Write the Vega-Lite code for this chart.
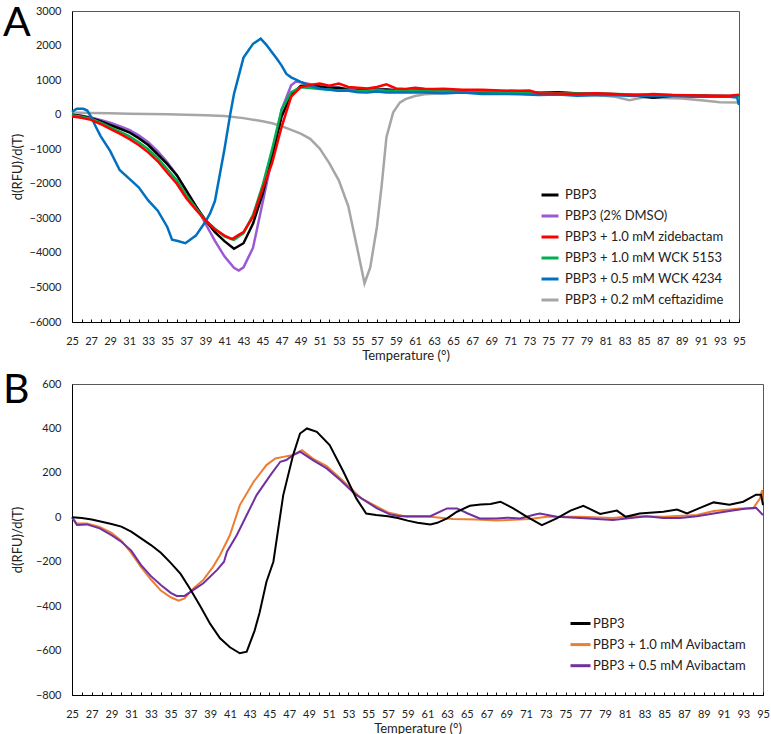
{
"$schema": "https://vega.github.io/schema/vega-lite/v6.json",
"padding": {"left": 2, "top": 2, "right": 0, "bottom": 0},
"config": {
  "font": "Lato",
  "view": {"stroke": "#595959", "strokeWidth": 1},
  "axis": {"grid": false, "labelFont": "Lato", "labelFontSize": 11, "labelColor": "#222", "titleFont": "Lato", "titleFontSize": 13, "titleFontWeight": "normal", "titleColor": "#222", "domainColor": "#000", "tickColor": "#000"},
  "legend": {"labelFont": "Lato", "labelFontSize": 13, "labelColor": "#222", "symbolType": "stroke", "padding": 0, "title": null},
  "title": {"font": "Lato", "fontSize": 41, "fontWeight": "normal", "anchor": "start", "frame": "group", "baseline": "top", "color": "#000"}
},
"datasets": {
"a": [
{"s":"PBP3 + 0.2 mM ceftazidime","t":25,"v":60},{"s":"PBP3 + 0.2 mM ceftazidime","t":27,"v":50},{"s":"PBP3 + 0.2 mM ceftazidime","t":29,"v":40},{"s":"PBP3 + 0.2 mM ceftazidime","t":31,"v":30},{"s":"PBP3 + 0.2 mM ceftazidime","t":33,"v":20},{"s":"PBP3 + 0.2 mM ceftazidime","t":35,"v":10},{"s":"PBP3 + 0.2 mM ceftazidime","t":37,"v":0},{"s":"PBP3 + 0.2 mM ceftazidime","t":39,"v":-20},{"s":"PBP3 + 0.2 mM ceftazidime","t":41,"v":-40},{"s":"PBP3 + 0.2 mM ceftazidime","t":43,"v":-100},{"s":"PBP3 + 0.2 mM ceftazidime","t":45,"v":-190},{"s":"PBP3 + 0.2 mM ceftazidime","t":46,"v":-250},{"s":"PBP3 + 0.2 mM ceftazidime","t":47,"v":-330},{"s":"PBP3 + 0.2 mM ceftazidime","t":48,"v":-440},{"s":"PBP3 + 0.2 mM ceftazidime","t":49,"v":-550},{"s":"PBP3 + 0.2 mM ceftazidime","t":50,"v":-700},{"s":"PBP3 + 0.2 mM ceftazidime","t":51,"v":-980},{"s":"PBP3 + 0.2 mM ceftazidime","t":52,"v":-1400},{"s":"PBP3 + 0.2 mM ceftazidime","t":53,"v":-1900},{"s":"PBP3 + 0.2 mM ceftazidime","t":54,"v":-2650},{"s":"PBP3 + 0.2 mM ceftazidime","t":55,"v":-3950},{"s":"PBP3 + 0.2 mM ceftazidime","t":55.7,"v":-4880},{"s":"PBP3 + 0.2 mM ceftazidime","t":56.3,"v":-4420},{"s":"PBP3 + 0.2 mM ceftazidime","t":57,"v":-3250},{"s":"PBP3 + 0.2 mM ceftazidime","t":57.5,"v":-2050},{"s":"PBP3 + 0.2 mM ceftazidime","t":58,"v":-650},{"s":"PBP3 + 0.2 mM ceftazidime","t":58.7,"v":60},{"s":"PBP3 + 0.2 mM ceftazidime","t":59.4,"v":350},{"s":"PBP3 + 0.2 mM ceftazidime","t":60,"v":450},{"s":"PBP3 + 0.2 mM ceftazidime","t":61,"v":540},{"s":"PBP3 + 0.2 mM ceftazidime","t":62,"v":590},{"s":"PBP3 + 0.2 mM ceftazidime","t":64,"v":620},{"s":"PBP3 + 0.2 mM ceftazidime","t":66,"v":640},{"s":"PBP3 + 0.2 mM ceftazidime","t":68,"v":640},{"s":"PBP3 + 0.2 mM ceftazidime","t":70,"v":630},{"s":"PBP3 + 0.2 mM ceftazidime","t":72,"v":620},{"s":"PBP3 + 0.2 mM ceftazidime","t":74,"v":620},{"s":"PBP3 + 0.2 mM ceftazidime","t":76,"v":620},{"s":"PBP3 + 0.2 mM ceftazidime","t":78,"v":600},{"s":"PBP3 + 0.2 mM ceftazidime","t":80,"v":570},{"s":"PBP3 + 0.2 mM ceftazidime","t":82,"v":520},{"s":"PBP3 + 0.2 mM ceftazidime","t":83.5,"v":420},{"s":"PBP3 + 0.2 mM ceftazidime","t":85,"v":500},{"s":"PBP3 + 0.2 mM ceftazidime","t":87,"v":480},{"s":"PBP3 + 0.2 mM ceftazidime","t":89,"v":470},{"s":"PBP3 + 0.2 mM ceftazidime","t":91,"v":420},{"s":"PBP3 + 0.2 mM ceftazidime","t":93,"v":360},{"s":"PBP3 + 0.2 mM ceftazidime","t":95,"v":350},
{"s":"PBP3 (2% DMSO)","t":25,"v":0},{"s":"PBP3 (2% DMSO)","t":26,"v":-30},{"s":"PBP3 (2% DMSO)","t":27,"v":-80},{"s":"PBP3 (2% DMSO)","t":28,"v":-150},{"s":"PBP3 (2% DMSO)","t":29,"v":-230},{"s":"PBP3 (2% DMSO)","t":30,"v":-330},{"s":"PBP3 (2% DMSO)","t":31,"v":-440},{"s":"PBP3 (2% DMSO)","t":32,"v":-600},{"s":"PBP3 (2% DMSO)","t":33,"v":-800},{"s":"PBP3 (2% DMSO)","t":34,"v":-1060},{"s":"PBP3 (2% DMSO)","t":35,"v":-1380},{"s":"PBP3 (2% DMSO)","t":36,"v":-1750},{"s":"PBP3 (2% DMSO)","t":37,"v":-2200},{"s":"PBP3 (2% DMSO)","t":38,"v":-2650},{"s":"PBP3 (2% DMSO)","t":39,"v":-3150},{"s":"PBP3 (2% DMSO)","t":40,"v":-3650},{"s":"PBP3 (2% DMSO)","t":41,"v":-4100},{"s":"PBP3 (2% DMSO)","t":42,"v":-4430},{"s":"PBP3 (2% DMSO)","t":42.5,"v":-4510},{"s":"PBP3 (2% DMSO)","t":43,"v":-4420},{"s":"PBP3 (2% DMSO)","t":44,"v":-3850},{"s":"PBP3 (2% DMSO)","t":45,"v":-2550},{"s":"PBP3 (2% DMSO)","t":46,"v":-1250},{"s":"PBP3 (2% DMSO)","t":47,"v":150},{"s":"PBP3 (2% DMSO)","t":48,"v":850},{"s":"PBP3 (2% DMSO)","t":48.5,"v":960},{"s":"PBP3 (2% DMSO)","t":49,"v":940},{"s":"PBP3 (2% DMSO)","t":50,"v":880},{"s":"PBP3 (2% DMSO)","t":51,"v":830},{"s":"PBP3 (2% DMSO)","t":52,"v":800},{"s":"PBP3 (2% DMSO)","t":53,"v":780},{"s":"PBP3 (2% DMSO)","t":54,"v":740},{"s":"PBP3 (2% DMSO)","t":55,"v":730},{"s":"PBP3 (2% DMSO)","t":56,"v":720},{"s":"PBP3 (2% DMSO)","t":57,"v":740},{"s":"PBP3 (2% DMSO)","t":58,"v":730},{"s":"PBP3 (2% DMSO)","t":60,"v":700},{"s":"PBP3 (2% DMSO)","t":62,"v":710},{"s":"PBP3 (2% DMSO)","t":64,"v":700},{"s":"PBP3 (2% DMSO)","t":66,"v":710},{"s":"PBP3 (2% DMSO)","t":68,"v":680},{"s":"PBP3 (2% DMSO)","t":70,"v":670},{"s":"PBP3 (2% DMSO)","t":72,"v":660},{"s":"PBP3 (2% DMSO)","t":74,"v":640},{"s":"PBP3 (2% DMSO)","t":76,"v":640},{"s":"PBP3 (2% DMSO)","t":78,"v":620},{"s":"PBP3 (2% DMSO)","t":80,"v":610},{"s":"PBP3 (2% DMSO)","t":82,"v":590},{"s":"PBP3 (2% DMSO)","t":84,"v":580},{"s":"PBP3 (2% DMSO)","t":86,"v":560},{"s":"PBP3 (2% DMSO)","t":88,"v":560},{"s":"PBP3 (2% DMSO)","t":90,"v":560},{"s":"PBP3 (2% DMSO)","t":92,"v":550},{"s":"PBP3 (2% DMSO)","t":94,"v":540},{"s":"PBP3 (2% DMSO)","t":95,"v":540},
{"s":"PBP3","t":25,"v":0},{"s":"PBP3","t":26,"v":-40},{"s":"PBP3","t":27,"v":-100},{"s":"PBP3","t":28,"v":-190},{"s":"PBP3","t":29,"v":-300},{"s":"PBP3","t":30,"v":-400},{"s":"PBP3","t":31,"v":-510},{"s":"PBP3","t":32,"v":-680},{"s":"PBP3","t":33,"v":-880},{"s":"PBP3","t":34,"v":-1150},{"s":"PBP3","t":35,"v":-1430},{"s":"PBP3","t":36,"v":-1750},{"s":"PBP3","t":37,"v":-2200},{"s":"PBP3","t":38,"v":-2650},{"s":"PBP3","t":39,"v":-3050},{"s":"PBP3","t":40,"v":-3400},{"s":"PBP3","t":41,"v":-3660},{"s":"PBP3","t":42,"v":-3880},{"s":"PBP3","t":43,"v":-3720},{"s":"PBP3","t":44,"v":-3150},{"s":"PBP3","t":45,"v":-2300},{"s":"PBP3","t":46,"v":-1200},{"s":"PBP3","t":47,"v":-50},{"s":"PBP3","t":48,"v":580},{"s":"PBP3","t":49,"v":830},{"s":"PBP3","t":50,"v":860},{"s":"PBP3","t":51,"v":810},{"s":"PBP3","t":52,"v":770},{"s":"PBP3","t":53,"v":780},{"s":"PBP3","t":54,"v":720},{"s":"PBP3","t":55,"v":710},{"s":"PBP3","t":56,"v":740},{"s":"PBP3","t":57,"v":720},{"s":"PBP3","t":58,"v":730},{"s":"PBP3","t":59,"v":700},{"s":"PBP3","t":60,"v":680},{"s":"PBP3","t":62,"v":710},{"s":"PBP3","t":64,"v":690},{"s":"PBP3","t":66,"v":700},{"s":"PBP3","t":68,"v":660},{"s":"PBP3","t":70,"v":670},{"s":"PBP3","t":72,"v":650},{"s":"PBP3","t":74,"v":630},{"s":"PBP3","t":76,"v":650},{"s":"PBP3","t":78,"v":610},{"s":"PBP3","t":80,"v":600},{"s":"PBP3","t":82,"v":580},{"s":"PBP3","t":84,"v":560},{"s":"PBP3","t":86,"v":490},{"s":"PBP3","t":88,"v":550},{"s":"PBP3","t":90,"v":560},{"s":"PBP3","t":92,"v":540},{"s":"PBP3","t":94,"v":530},{"s":"PBP3","t":95,"v":540},
{"s":"PBP3 + 1.0 mM WCK 5153","t":25,"v":-20},{"s":"PBP3 + 1.0 mM WCK 5153","t":26,"v":-60},{"s":"PBP3 + 1.0 mM WCK 5153","t":27,"v":-120},{"s":"PBP3 + 1.0 mM WCK 5153","t":28,"v":-230},{"s":"PBP3 + 1.0 mM WCK 5153","t":29,"v":-360},{"s":"PBP3 + 1.0 mM WCK 5153","t":30,"v":-490},{"s":"PBP3 + 1.0 mM WCK 5153","t":31,"v":-620},{"s":"PBP3 + 1.0 mM WCK 5153","t":32,"v":-800},{"s":"PBP3 + 1.0 mM WCK 5153","t":33,"v":-1000},{"s":"PBP3 + 1.0 mM WCK 5153","t":34,"v":-1260},{"s":"PBP3 + 1.0 mM WCK 5153","t":35,"v":-1580},{"s":"PBP3 + 1.0 mM WCK 5153","t":36,"v":-1900},{"s":"PBP3 + 1.0 mM WCK 5153","t":37,"v":-2330},{"s":"PBP3 + 1.0 mM WCK 5153","t":38,"v":-2700},{"s":"PBP3 + 1.0 mM WCK 5153","t":39,"v":-3050},{"s":"PBP3 + 1.0 mM WCK 5153","t":40,"v":-3300},{"s":"PBP3 + 1.0 mM WCK 5153","t":41,"v":-3520},{"s":"PBP3 + 1.0 mM WCK 5153","t":42,"v":-3620},{"s":"PBP3 + 1.0 mM WCK 5153","t":43,"v":-3430},{"s":"PBP3 + 1.0 mM WCK 5153","t":44,"v":-2900},{"s":"PBP3 + 1.0 mM WCK 5153","t":45,"v":-2050},{"s":"PBP3 + 1.0 mM WCK 5153","t":46,"v":-1000},{"s":"PBP3 + 1.0 mM WCK 5153","t":47,"v":150},{"s":"PBP3 + 1.0 mM WCK 5153","t":48,"v":650},{"s":"PBP3 + 1.0 mM WCK 5153","t":49,"v":790},{"s":"PBP3 + 1.0 mM WCK 5153","t":50,"v":770},{"s":"PBP3 + 1.0 mM WCK 5153","t":51,"v":740},{"s":"PBP3 + 1.0 mM WCK 5153","t":52,"v":730},{"s":"PBP3 + 1.0 mM WCK 5153","t":53,"v":700},{"s":"PBP3 + 1.0 mM WCK 5153","t":54,"v":720},{"s":"PBP3 + 1.0 mM WCK 5153","t":55,"v":690},{"s":"PBP3 + 1.0 mM WCK 5153","t":56,"v":700},{"s":"PBP3 + 1.0 mM WCK 5153","t":57,"v":720},{"s":"PBP3 + 1.0 mM WCK 5153","t":58,"v":690},{"s":"PBP3 + 1.0 mM WCK 5153","t":60,"v":700},{"s":"PBP3 + 1.0 mM WCK 5153","t":62,"v":690},{"s":"PBP3 + 1.0 mM WCK 5153","t":64,"v":680},{"s":"PBP3 + 1.0 mM WCK 5153","t":66,"v":690},{"s":"PBP3 + 1.0 mM WCK 5153","t":68,"v":670},{"s":"PBP3 + 1.0 mM WCK 5153","t":70,"v":660},{"s":"PBP3 + 1.0 mM WCK 5153","t":72,"v":650},{"s":"PBP3 + 1.0 mM WCK 5153","t":74,"v":630},{"s":"PBP3 + 1.0 mM WCK 5153","t":76,"v":620},{"s":"PBP3 + 1.0 mM WCK 5153","t":78,"v":610},{"s":"PBP3 + 1.0 mM WCK 5153","t":80,"v":610},{"s":"PBP3 + 1.0 mM WCK 5153","t":82,"v":600},{"s":"PBP3 + 1.0 mM WCK 5153","t":84,"v":580},{"s":"PBP3 + 1.0 mM WCK 5153","t":86,"v":570},{"s":"PBP3 + 1.0 mM WCK 5153","t":88,"v":570},{"s":"PBP3 + 1.0 mM WCK 5153","t":90,"v":560},{"s":"PBP3 + 1.0 mM WCK 5153","t":92,"v":540},{"s":"PBP3 + 1.0 mM WCK 5153","t":94,"v":540},{"s":"PBP3 + 1.0 mM WCK 5153","t":95,"v":530},
{"s":"PBP3 + 0.5 mM WCK 4234","t":25,"v":80},{"s":"PBP3 + 0.5 mM WCK 4234","t":25.5,"v":170},{"s":"PBP3 + 0.5 mM WCK 4234","t":26.2,"v":170},{"s":"PBP3 + 0.5 mM WCK 4234","t":26.6,"v":120},{"s":"PBP3 + 0.5 mM WCK 4234","t":27,"v":-60},{"s":"PBP3 + 0.5 mM WCK 4234","t":27.5,"v":-350},{"s":"PBP3 + 0.5 mM WCK 4234","t":28,"v":-620},{"s":"PBP3 + 0.5 mM WCK 4234","t":29,"v":-1050},{"s":"PBP3 + 0.5 mM WCK 4234","t":30,"v":-1600},{"s":"PBP3 + 0.5 mM WCK 4234","t":31,"v":-1850},{"s":"PBP3 + 0.5 mM WCK 4234","t":32,"v":-2100},{"s":"PBP3 + 0.5 mM WCK 4234","t":33,"v":-2480},{"s":"PBP3 + 0.5 mM WCK 4234","t":34,"v":-2780},{"s":"PBP3 + 0.5 mM WCK 4234","t":35,"v":-3250},{"s":"PBP3 + 0.5 mM WCK 4234","t":35.5,"v":-3620},{"s":"PBP3 + 0.5 mM WCK 4234","t":36,"v":-3650},{"s":"PBP3 + 0.5 mM WCK 4234","t":36.9,"v":-3720},{"s":"PBP3 + 0.5 mM WCK 4234","t":38,"v":-3500},{"s":"PBP3 + 0.5 mM WCK 4234","t":39,"v":-3100},{"s":"PBP3 + 0.5 mM WCK 4234","t":39.5,"v":-2850},{"s":"PBP3 + 0.5 mM WCK 4234","t":40,"v":-2500},{"s":"PBP3 + 0.5 mM WCK 4234","t":41,"v":-1000},{"s":"PBP3 + 0.5 mM WCK 4234","t":41.6,"v":0},{"s":"PBP3 + 0.5 mM WCK 4234","t":42,"v":600},{"s":"PBP3 + 0.5 mM WCK 4234","t":43,"v":1650},{"s":"PBP3 + 0.5 mM WCK 4234","t":44,"v":2050},{"s":"PBP3 + 0.5 mM WCK 4234","t":44.8,"v":2200},{"s":"PBP3 + 0.5 mM WCK 4234","t":45.4,"v":2020},{"s":"PBP3 + 0.5 mM WCK 4234","t":46,"v":1800},{"s":"PBP3 + 0.5 mM WCK 4234","t":46.5,"v":1620},{"s":"PBP3 + 0.5 mM WCK 4234","t":47,"v":1420},{"s":"PBP3 + 0.5 mM WCK 4234","t":47.5,"v":1180},{"s":"PBP3 + 0.5 mM WCK 4234","t":48,"v":1080},{"s":"PBP3 + 0.5 mM WCK 4234","t":49,"v":950},{"s":"PBP3 + 0.5 mM WCK 4234","t":50,"v":840},{"s":"PBP3 + 0.5 mM WCK 4234","t":51,"v":760},{"s":"PBP3 + 0.5 mM WCK 4234","t":52,"v":720},{"s":"PBP3 + 0.5 mM WCK 4234","t":53,"v":690},{"s":"PBP3 + 0.5 mM WCK 4234","t":54,"v":690},{"s":"PBP3 + 0.5 mM WCK 4234","t":55,"v":650},{"s":"PBP3 + 0.5 mM WCK 4234","t":56,"v":640},{"s":"PBP3 + 0.5 mM WCK 4234","t":57,"v":670},{"s":"PBP3 + 0.5 mM WCK 4234","t":58,"v":640},{"s":"PBP3 + 0.5 mM WCK 4234","t":60,"v":640},{"s":"PBP3 + 0.5 mM WCK 4234","t":62,"v":640},{"s":"PBP3 + 0.5 mM WCK 4234","t":64,"v":620},{"s":"PBP3 + 0.5 mM WCK 4234","t":66,"v":640},{"s":"PBP3 + 0.5 mM WCK 4234","t":68,"v":600},{"s":"PBP3 + 0.5 mM WCK 4234","t":70,"v":600},{"s":"PBP3 + 0.5 mM WCK 4234","t":72,"v":590},{"s":"PBP3 + 0.5 mM WCK 4234","t":74,"v":570},{"s":"PBP3 + 0.5 mM WCK 4234","t":76,"v":580},{"s":"PBP3 + 0.5 mM WCK 4234","t":78,"v":550},{"s":"PBP3 + 0.5 mM WCK 4234","t":80,"v":560},{"s":"PBP3 + 0.5 mM WCK 4234","t":82,"v":560},{"s":"PBP3 + 0.5 mM WCK 4234","t":84,"v":540},{"s":"PBP3 + 0.5 mM WCK 4234","t":86,"v":550},{"s":"PBP3 + 0.5 mM WCK 4234","t":88,"v":540},{"s":"PBP3 + 0.5 mM WCK 4234","t":90,"v":520},{"s":"PBP3 + 0.5 mM WCK 4234","t":92,"v":520},{"s":"PBP3 + 0.5 mM WCK 4234","t":94,"v":520},{"s":"PBP3 + 0.5 mM WCK 4234","t":94.8,"v":500},{"s":"PBP3 + 0.5 mM WCK 4234","t":95,"v":280},
{"s":"PBP3 + 1.0 mM zidebactam","t":25,"v":-50},{"s":"PBP3 + 1.0 mM zidebactam","t":26,"v":-90},{"s":"PBP3 + 1.0 mM zidebactam","t":27,"v":-150},{"s":"PBP3 + 1.0 mM zidebactam","t":28,"v":-270},{"s":"PBP3 + 1.0 mM zidebactam","t":29,"v":-410},{"s":"PBP3 + 1.0 mM zidebactam","t":30,"v":-550},{"s":"PBP3 + 1.0 mM zidebactam","t":31,"v":-700},{"s":"PBP3 + 1.0 mM zidebactam","t":32,"v":-880},{"s":"PBP3 + 1.0 mM zidebactam","t":33,"v":-1090},{"s":"PBP3 + 1.0 mM zidebactam","t":34,"v":-1350},{"s":"PBP3 + 1.0 mM zidebactam","t":35,"v":-1680},{"s":"PBP3 + 1.0 mM zidebactam","t":36,"v":-2000},{"s":"PBP3 + 1.0 mM zidebactam","t":37,"v":-2420},{"s":"PBP3 + 1.0 mM zidebactam","t":38,"v":-2750},{"s":"PBP3 + 1.0 mM zidebactam","t":39,"v":-3050},{"s":"PBP3 + 1.0 mM zidebactam","t":40,"v":-3320},{"s":"PBP3 + 1.0 mM zidebactam","t":41,"v":-3500},{"s":"PBP3 + 1.0 mM zidebactam","t":41.8,"v":-3600},{"s":"PBP3 + 1.0 mM zidebactam","t":42.5,"v":-3480},{"s":"PBP3 + 1.0 mM zidebactam","t":43,"v":-3400},{"s":"PBP3 + 1.0 mM zidebactam","t":44,"v":-2950},{"s":"PBP3 + 1.0 mM zidebactam","t":45,"v":-2150},{"s":"PBP3 + 1.0 mM zidebactam","t":46,"v":-1400},{"s":"PBP3 + 1.0 mM zidebactam","t":47,"v":-350},{"s":"PBP3 + 1.0 mM zidebactam","t":48,"v":520},{"s":"PBP3 + 1.0 mM zidebactam","t":49,"v":800},{"s":"PBP3 + 1.0 mM zidebactam","t":50,"v":860},{"s":"PBP3 + 1.0 mM zidebactam","t":51,"v":900},{"s":"PBP3 + 1.0 mM zidebactam","t":52,"v":840},{"s":"PBP3 + 1.0 mM zidebactam","t":53,"v":900},{"s":"PBP3 + 1.0 mM zidebactam","t":54,"v":800},{"s":"PBP3 + 1.0 mM zidebactam","t":55,"v":780},{"s":"PBP3 + 1.0 mM zidebactam","t":56,"v":760},{"s":"PBP3 + 1.0 mM zidebactam","t":57,"v":800},{"s":"PBP3 + 1.0 mM zidebactam","t":58,"v":880},{"s":"PBP3 + 1.0 mM zidebactam","t":59,"v":760},{"s":"PBP3 + 1.0 mM zidebactam","t":60,"v":740},{"s":"PBP3 + 1.0 mM zidebactam","t":61,"v":780},{"s":"PBP3 + 1.0 mM zidebactam","t":62,"v":750},{"s":"PBP3 + 1.0 mM zidebactam","t":63,"v":740},{"s":"PBP3 + 1.0 mM zidebactam","t":64,"v":750},{"s":"PBP3 + 1.0 mM zidebactam","t":66,"v":720},{"s":"PBP3 + 1.0 mM zidebactam","t":68,"v":720},{"s":"PBP3 + 1.0 mM zidebactam","t":70,"v":700},{"s":"PBP3 + 1.0 mM zidebactam","t":72,"v":690},{"s":"PBP3 + 1.0 mM zidebactam","t":73,"v":700},{"s":"PBP3 + 1.0 mM zidebactam","t":74,"v":620},{"s":"PBP3 + 1.0 mM zidebactam","t":76,"v":610},{"s":"PBP3 + 1.0 mM zidebactam","t":78,"v":600},{"s":"PBP3 + 1.0 mM zidebactam","t":80,"v":620},{"s":"PBP3 + 1.0 mM zidebactam","t":82,"v":600},{"s":"PBP3 + 1.0 mM zidebactam","t":84,"v":560},{"s":"PBP3 + 1.0 mM zidebactam","t":86,"v":600},{"s":"PBP3 + 1.0 mM zidebactam","t":88,"v":570},{"s":"PBP3 + 1.0 mM zidebactam","t":90,"v":560},{"s":"PBP3 + 1.0 mM zidebactam","t":92,"v":550},{"s":"PBP3 + 1.0 mM zidebactam","t":94,"v":550},{"s":"PBP3 + 1.0 mM zidebactam","t":95,"v":580}
],
"b": [
{"s":"PBP3 + 1.0 mM Avibactam","t":25,"v":0},{"s":"PBP3 + 1.0 mM Avibactam","t":25.5,"v":-28},{"s":"PBP3 + 1.0 mM Avibactam","t":26.5,"v":-28},{"s":"PBP3 + 1.0 mM Avibactam","t":27.8,"v":-43},{"s":"PBP3 + 1.0 mM Avibactam","t":29,"v":-70},{"s":"PBP3 + 1.0 mM Avibactam","t":30,"v":-105},{"s":"PBP3 + 1.0 mM Avibactam","t":31,"v":-160},{"s":"PBP3 + 1.0 mM Avibactam","t":32,"v":-225},{"s":"PBP3 + 1.0 mM Avibactam","t":33,"v":-280},{"s":"PBP3 + 1.0 mM Avibactam","t":34,"v":-330},{"s":"PBP3 + 1.0 mM Avibactam","t":35,"v":-360},{"s":"PBP3 + 1.0 mM Avibactam","t":35.8,"v":-375},{"s":"PBP3 + 1.0 mM Avibactam","t":36.4,"v":-365},{"s":"PBP3 + 1.0 mM Avibactam","t":37.3,"v":-320},{"s":"PBP3 + 1.0 mM Avibactam","t":38.3,"v":-282},{"s":"PBP3 + 1.0 mM Avibactam","t":39.3,"v":-222},{"s":"PBP3 + 1.0 mM Avibactam","t":40,"v":-170},{"s":"PBP3 + 1.0 mM Avibactam","t":41,"v":-80},{"s":"PBP3 + 1.0 mM Avibactam","t":42,"v":55},{"s":"PBP3 + 1.0 mM Avibactam","t":43.4,"v":160},{"s":"PBP3 + 1.0 mM Avibactam","t":44.7,"v":235},{"s":"PBP3 + 1.0 mM Avibactam","t":45.6,"v":265},{"s":"PBP3 + 1.0 mM Avibactam","t":46.4,"v":272},{"s":"PBP3 + 1.0 mM Avibactam","t":47.4,"v":280},{"s":"PBP3 + 1.0 mM Avibactam","t":48.3,"v":302},{"s":"PBP3 + 1.0 mM Avibactam","t":49.4,"v":264},{"s":"PBP3 + 1.0 mM Avibactam","t":50.8,"v":230},{"s":"PBP3 + 1.0 mM Avibactam","t":52.2,"v":175},{"s":"PBP3 + 1.0 mM Avibactam","t":53.6,"v":115},{"s":"PBP3 + 1.0 mM Avibactam","t":54.3,"v":85},{"s":"PBP3 + 1.0 mM Avibactam","t":55.6,"v":55},{"s":"PBP3 + 1.0 mM Avibactam","t":57,"v":22},{"s":"PBP3 + 1.0 mM Avibactam","t":58.9,"v":2},{"s":"PBP3 + 1.0 mM Avibactam","t":61.3,"v":2},{"s":"PBP3 + 1.0 mM Avibactam","t":63.6,"v":-8},{"s":"PBP3 + 1.0 mM Avibactam","t":66,"v":-10},{"s":"PBP3 + 1.0 mM Avibactam","t":68,"v":-15},{"s":"PBP3 + 1.0 mM Avibactam","t":71.4,"v":-8},{"s":"PBP3 + 1.0 mM Avibactam","t":73.1,"v":2},{"s":"PBP3 + 1.0 mM Avibactam","t":76.5,"v":2},{"s":"PBP3 + 1.0 mM Avibactam","t":79.8,"v":-3},{"s":"PBP3 + 1.0 mM Avibactam","t":81.5,"v":5},{"s":"PBP3 + 1.0 mM Avibactam","t":84.9,"v":2},{"s":"PBP3 + 1.0 mM Avibactam","t":88.3,"v":10},{"s":"PBP3 + 1.0 mM Avibactam","t":90,"v":28},{"s":"PBP3 + 1.0 mM Avibactam","t":92.7,"v":40},{"s":"PBP3 + 1.0 mM Avibactam","t":94,"v":40},{"s":"PBP3 + 1.0 mM Avibactam","t":94.7,"v":85},{"s":"PBP3 + 1.0 mM Avibactam","t":94.9,"v":122},{"s":"PBP3 + 1.0 mM Avibactam","t":95,"v":70},
{"s":"PBP3 + 0.5 mM Avibactam","t":25,"v":0},{"s":"PBP3 + 0.5 mM Avibactam","t":25.5,"v":-35},{"s":"PBP3 + 0.5 mM Avibactam","t":26.5,"v":-32},{"s":"PBP3 + 0.5 mM Avibactam","t":27.8,"v":-50},{"s":"PBP3 + 0.5 mM Avibactam","t":29,"v":-80},{"s":"PBP3 + 0.5 mM Avibactam","t":30,"v":-110},{"s":"PBP3 + 0.5 mM Avibactam","t":31,"v":-150},{"s":"PBP3 + 0.5 mM Avibactam","t":32,"v":-215},{"s":"PBP3 + 0.5 mM Avibactam","t":33,"v":-265},{"s":"PBP3 + 0.5 mM Avibactam","t":34,"v":-305},{"s":"PBP3 + 0.5 mM Avibactam","t":35,"v":-340},{"s":"PBP3 + 0.5 mM Avibactam","t":35.6,"v":-354},{"s":"PBP3 + 0.5 mM Avibactam","t":36.4,"v":-354},{"s":"PBP3 + 0.5 mM Avibactam","t":37.3,"v":-327},{"s":"PBP3 + 0.5 mM Avibactam","t":38.3,"v":-297},{"s":"PBP3 + 0.5 mM Avibactam","t":39.7,"v":-237},{"s":"PBP3 + 0.5 mM Avibactam","t":40.4,"v":-200},{"s":"PBP3 + 0.5 mM Avibactam","t":40.7,"v":-155},{"s":"PBP3 + 0.5 mM Avibactam","t":41.7,"v":-80},{"s":"PBP3 + 0.5 mM Avibactam","t":42.7,"v":10},{"s":"PBP3 + 0.5 mM Avibactam","t":43.7,"v":100},{"s":"PBP3 + 0.5 mM Avibactam","t":45.1,"v":190},{"s":"PBP3 + 0.5 mM Avibactam","t":46.1,"v":250},{"s":"PBP3 + 0.5 mM Avibactam","t":46.7,"v":258},{"s":"PBP3 + 0.5 mM Avibactam","t":47.4,"v":280},{"s":"PBP3 + 0.5 mM Avibactam","t":48.1,"v":295},{"s":"PBP3 + 0.5 mM Avibactam","t":49.4,"v":257},{"s":"PBP3 + 0.5 mM Avibactam","t":50.8,"v":220},{"s":"PBP3 + 0.5 mM Avibactam","t":52.2,"v":167},{"s":"PBP3 + 0.5 mM Avibactam","t":53.6,"v":107},{"s":"PBP3 + 0.5 mM Avibactam","t":54.6,"v":77},{"s":"PBP3 + 0.5 mM Avibactam","t":55.9,"v":40},{"s":"PBP3 + 0.5 mM Avibactam","t":57.2,"v":13},{"s":"PBP3 + 0.5 mM Avibactam","t":58.2,"v":5},{"s":"PBP3 + 0.5 mM Avibactam","t":61.3,"v":5},{"s":"PBP3 + 0.5 mM Avibactam","t":63,"v":40},{"s":"PBP3 + 0.5 mM Avibactam","t":64,"v":40},{"s":"PBP3 + 0.5 mM Avibactam","t":65.1,"v":17},{"s":"PBP3 + 0.5 mM Avibactam","t":66.3,"v":-5},{"s":"PBP3 + 0.5 mM Avibactam","t":68,"v":-5},{"s":"PBP3 + 0.5 mM Avibactam","t":69.1,"v":-2},{"s":"PBP3 + 0.5 mM Avibactam","t":70.4,"v":-5},{"s":"PBP3 + 0.5 mM Avibactam","t":71.7,"v":10},{"s":"PBP3 + 0.5 mM Avibactam","t":72.4,"v":17},{"s":"PBP3 + 0.5 mM Avibactam","t":74.1,"v":2},{"s":"PBP3 + 0.5 mM Avibactam","t":76.5,"v":-3},{"s":"PBP3 + 0.5 mM Avibactam","t":79.8,"v":-12},{"s":"PBP3 + 0.5 mM Avibactam","t":83.2,"v":5},{"s":"PBP3 + 0.5 mM Avibactam","t":84.9,"v":-3},{"s":"PBP3 + 0.5 mM Avibactam","t":86.6,"v":-3},{"s":"PBP3 + 0.5 mM Avibactam","t":88.3,"v":5},{"s":"PBP3 + 0.5 mM Avibactam","t":90,"v":17},{"s":"PBP3 + 0.5 mM Avibactam","t":91.6,"v":28},{"s":"PBP3 + 0.5 mM Avibactam","t":93.3,"v":40},{"s":"PBP3 + 0.5 mM Avibactam","t":94.3,"v":43},{"s":"PBP3 + 0.5 mM Avibactam","t":95,"v":10},
{"s":"PBP3","t":25,"v":0},{"s":"PBP3","t":26,"v":-3},{"s":"PBP3","t":27,"v":-10},{"s":"PBP3","t":28,"v":-20},{"s":"PBP3","t":29,"v":-30},{"s":"PBP3","t":30,"v":-42},{"s":"PBP3","t":31,"v":-65},{"s":"PBP3","t":32,"v":-95},{"s":"PBP3","t":33,"v":-125},{"s":"PBP3","t":34,"v":-160},{"s":"PBP3","t":35,"v":-205},{"s":"PBP3","t":36,"v":-255},{"s":"PBP3","t":37,"v":-325},{"s":"PBP3","t":38,"v":-400},{"s":"PBP3","t":39,"v":-480},{"s":"PBP3","t":40,"v":-545},{"s":"PBP3","t":41,"v":-585},{"s":"PBP3","t":42,"v":-612},{"s":"PBP3","t":42.7,"v":-605},{"s":"PBP3","t":43.5,"v":-510},{"s":"PBP3","t":44,"v":-430},{"s":"PBP3","t":44.7,"v":-290},{"s":"PBP3","t":45.4,"v":-200},{"s":"PBP3","t":46,"v":-20},{"s":"PBP3","t":46.4,"v":100},{"s":"PBP3","t":47.4,"v":280},{"s":"PBP3","t":48.1,"v":377},{"s":"PBP3","t":48.8,"v":400},{"s":"PBP3","t":49.8,"v":385},{"s":"PBP3","t":51.1,"v":325},{"s":"PBP3","t":52.5,"v":205},{"s":"PBP3","t":53.8,"v":85},{"s":"PBP3","t":54.8,"v":17},{"s":"PBP3","t":55.8,"v":10},{"s":"PBP3","t":57,"v":5},{"s":"PBP3","t":58,"v":-3},{"s":"PBP3","t":59,"v":-15},{"s":"PBP3","t":60,"v":-25},{"s":"PBP3","t":61.3,"v":-32},{"s":"PBP3","t":62,"v":-25},{"s":"PBP3","t":63,"v":-5},{"s":"PBP3","t":64,"v":25},{"s":"PBP3","t":65.3,"v":52},{"s":"PBP3","t":66.4,"v":58},{"s":"PBP3","t":67.4,"v":60},{"s":"PBP3","t":68.4,"v":70},{"s":"PBP3","t":69.7,"v":40},{"s":"PBP3","t":71.1,"v":2},{"s":"PBP3","t":72.6,"v":-35},{"s":"PBP3","t":74.1,"v":-5},{"s":"PBP3","t":75.5,"v":30},{"s":"PBP3","t":76.8,"v":52},{"s":"PBP3","t":78.5,"v":15},{"s":"PBP3","t":80.2,"v":30},{"s":"PBP3","t":81.1,"v":2},{"s":"PBP3","t":82.5,"v":17},{"s":"PBP3","t":84.9,"v":25},{"s":"PBP3","t":86.3,"v":35},{"s":"PBP3","t":87.3,"v":17},{"s":"PBP3","t":88.5,"v":40},{"s":"PBP3","t":90,"v":67},{"s":"PBP3","t":91.6,"v":57},{"s":"PBP3","t":93,"v":70},{"s":"PBP3","t":94.3,"v":102},{"s":"PBP3","t":94.8,"v":102},{"s":"PBP3","t":95,"v":55}
]
},
"spacing": 6,
"resolve": {"scale": {"color": "independent", "x": "independent", "y": "independent"}},
"vconcat": [
{
  "title": {"text": "A", "dx": -69, "offset": -40},
  "width": 667, "height": 311,
  "data": {"name": "a"},
  "mark": {"type": "line", "strokeWidth": 2.5},
  "encoding": {
    "x": {"field": "t", "type": "quantitative", "scale": {"domain": [25, 95], "nice": false, "zero": false},
      "axis": {"values": [25,26,27,28,29,30,31,32,33,34,35,36,37,38,39,40,41,42,43,44,45,46,47,48,49,50,51,52,53,54,55,56,57,58,59,60,61,62,63,64,65,66,67,68,69,70,71,72,73,74,75,76,77,78,79,80,81,82,83,84,85,86,87,88,89,90,91,92,93,94,95],
        "labelExpr": "datum.value % 2 == 1 ? datum.label : ''", "labelOverlap": false, "labelFlush": false, "tickSize": -3, "labelPadding": 16, "title": "Temperature (°)", "titlePadding": 3}},
    "y": {"field": "v", "type": "quantitative", "scale": {"domain": [-6000, 3000], "nice": false},
      "axis": {"values": [-6000,-5000,-4000,-3000,-2000,-1000,0,1000,2000,3000], "format": "d", "title": "d(RFU)/d(T)", "ticks": false, "labelPadding": 11, "titlePadding": 5}},
    "color": {"field": "s", "type": "nominal",
      "scale": {"domain": ["PBP3", "PBP3 (2% DMSO)", "PBP3 + 1.0 mM zidebactam", "PBP3 + 1.0 mM WCK 5153", "PBP3 + 0.5 mM WCK 4234", "PBP3 + 0.2 mM ceftazidime"],
                "range": ["#000000", "#9b59d6", "#ff0000", "#00b050", "#0070c0", "#a6a6a6"]},
      "legend": {"orient": "none", "legendX": 468, "legendY": 174, "symbolSize": 289, "symbolStrokeWidth": 3, "rowPadding": 4.0, "labelOffset": 5}}
  }
},
{
  "title": {"text": "B", "dx": -69, "offset": -34},
  "width": 691, "height": 311,
  "data": {"name": "b"},
  "mark": {"type": "line", "strokeWidth": 2},
  "encoding": {
    "x": {"field": "t", "type": "quantitative", "scale": {"domain": [25, 95], "nice": false, "zero": false},
      "axis": {"values": [25,26,27,28,29,30,31,32,33,34,35,36,37,38,39,40,41,42,43,44,45,46,47,48,49,50,51,52,53,54,55,56,57,58,59,60,61,62,63,64,65,66,67,68,69,70,71,72,73,74,75,76,77,78,79,80,81,82,83,84,85,86,87,88,89,90,91,92,93,94,95],
        "labelExpr": "datum.value % 2 == 1 ? datum.label : ''", "labelOverlap": false, "labelFlush": false, "tickSize": -3, "labelPadding": 16, "title": "Temperature (°)", "titlePadding": 3}},
    "y": {"field": "v", "type": "quantitative", "scale": {"domain": [-800, 600], "nice": false},
      "axis": {"values": [-800,-600,-400,-200,0,200,400,600], "format": "d", "title": "d(RFU)/d(T)", "ticks": false, "labelPadding": 11, "titlePadding": 11}},
    "color": {"field": "s", "type": "nominal",
      "scale": {"domain": ["PBP3", "PBP3 + 1.0 mM Avibactam", "PBP3 + 0.5 mM Avibactam"],
                "range": ["#000000", "#ed7d31", "#7030a0"]},
      "legend": {"orient": "none", "legendX": 497, "legendY": 228, "symbolSize": 400, "symbolStrokeWidth": 3, "rowPadding": 2.1, "labelOffset": 1}}
  }
}
]
}
